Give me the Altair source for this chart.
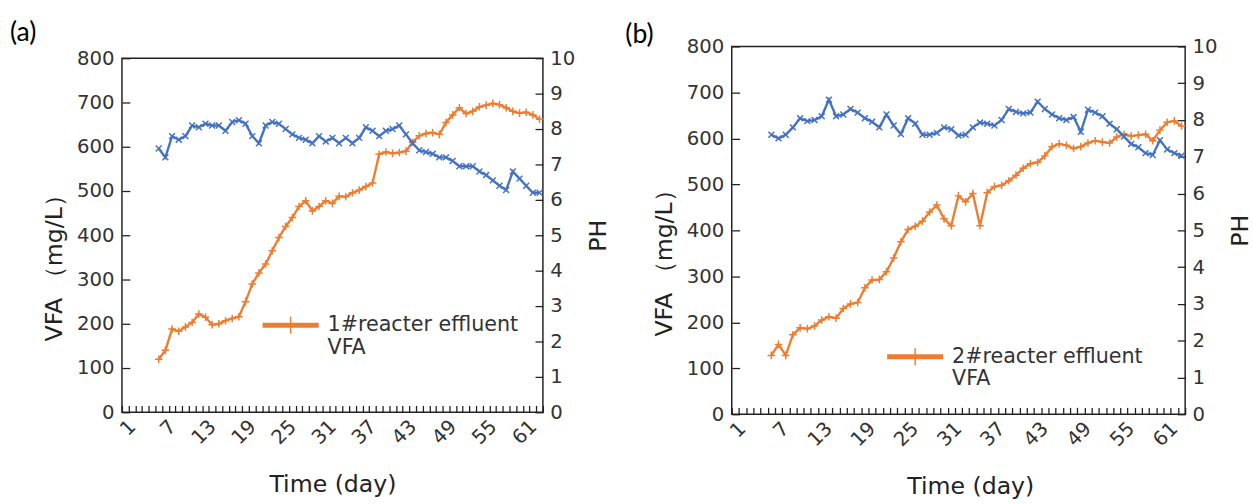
import altair as alt
import pandas as pd

# ---------------- data ----------------
AXIS_DAYS = list(range(1, 64))          # categories on the time axis
DAYS = list(range(6, 64))               # days with measurements
VFA_TICKS = [0, 100, 200, 300, 400, 500, 600, 700, 800]
PH_TICKS = [0, 1, 2, 3, 4, 5, 6, 7, 8, 9, 10]

VFA_A = [120, 140, 188, 183, 193, 203, 222, 215, 198, 200, 207, 212, 216, 250, 290,
         315, 335, 365, 395, 420, 440, 465, 478, 455, 465, 478, 472, 488, 487, 496,
         502, 510, 518, 583, 588, 585, 587, 590, 610, 625, 630, 632, 628, 655, 672,
         688, 675, 680, 690, 694, 698, 695, 688, 680, 676, 678, 672, 662]
PH_A = [7.45, 7.2, 7.8, 7.7, 7.8, 8.1, 8.05, 8.15, 8.1, 8.1, 7.95, 8.2, 8.25, 8.15, 7.8,
        7.6, 8.1, 8.2, 8.15, 8.0, 7.85, 7.75, 7.7, 7.6, 7.8, 7.65, 7.75, 7.6, 7.75, 7.6,
        7.75, 8.05, 7.95, 7.8, 7.95, 8.0, 8.1, 7.85, 7.6, 7.4, 7.35, 7.3, 7.2, 7.2, 7.1,
        6.95, 6.95, 6.95, 6.8, 6.7, 6.55, 6.4, 6.28, 6.8, 6.6, 6.4, 6.2, 6.2]
VFA_B = [128, 152, 128, 173, 188, 186, 192, 205, 212, 209, 230, 240, 243, 275, 292,
         293, 310, 340, 375, 402, 409, 420, 440, 455, 425, 410, 475, 462, 480, 410,
         482, 495, 498, 508, 520, 535, 545, 548, 562, 582, 588, 585, 578, 582, 590,
         595, 592, 590, 603, 609, 605, 607, 609, 595, 618, 635, 638, 627]
PH_B = [7.6, 7.5, 7.6, 7.8, 8.05, 7.97, 8.0, 8.1, 8.55, 8.1, 8.15, 8.3, 8.2, 8.05, 7.95,
        7.8, 8.15, 7.85, 7.62, 8.05, 7.9, 7.6, 7.6, 7.65, 7.8, 7.75, 7.58, 7.6, 7.8, 7.93,
        7.9, 7.85, 8.0, 8.3, 8.22, 8.18, 8.2, 8.5, 8.3, 8.15, 8.05, 8.0, 8.08, 7.68, 8.28,
        8.2, 8.1, 7.9, 7.75, 7.55, 7.35, 7.26, 7.1, 7.05, 7.45, 7.2, 7.1, 7.03]

LABEL_A = "1#reacter effluent|VFA"
LABEL_B = "2#reacter effluent|VFA"

# ---------------- style ----------------
ORANGE = "#ED7D31"
BLUE = "#4472C4"
FONT = "DejaVu Sans"
PLUS = "M-1,0H1M0,-1V1"
XMARK = "M-1,-1L1,1M-1,1L1,-1"
LEG_SYMBOL = ("M-1,-0.06H1M-1,-0.03H1M-1,0H1M-1,0.03H1M-1,0.06H1"
              "M0,-0.3V0.3")


def tag_title(text, dx, off):
    return alt.TitleParams(
        text,
        anchor="start",
        frame="bounds",
        font="Lato",
        fontSize=27,
        fontWeight="normal",
        color="#000",
        dx=dx,
        offset=off,
    )


def panel(label, vfa, ph, w, h, leg_x, leg_y, xt_shift):
    df = pd.DataFrame({"day": DAYS, "vfa": vfa, "ph": ph, "series": label})
    base = alt.Chart(df)

    x = alt.X(
        "day:O",
        bandPosition=0.5,
        scale=alt.Scale(type="band", domain=AXIS_DAYS, paddingInner=0, paddingOuter=0),
        axis=alt.Axis(
            title="Time (day)",
            labelExpr="(datum.value - 1) % 6 === 0 ? datum.label : ''",
            labelAngle=315,
            tickBand="extent",
            tickSize=7,
            offset=-7,
            domain=False,
            labelPadding=4,
            titlePadding=25,
            titleX=w / 2 + xt_shift,
        ),
    )
    y_vfa = alt.Y(
        "vfa:Q",
        scale=alt.Scale(domain=[0, 800], nice=False),
        axis=alt.Axis(
            title="VFA （mg/L）",
            values=VFA_TICKS,
            tickSize=8,
            offset=-8,
            domain=False,
            grid=False,
            labelPadding=8,
            titlePadding=10,
            titleY=h / 2 + 27,
        ),
    )
    y_ph = alt.Y(
        "ph:Q",
        scale=alt.Scale(domain=[0, 10], nice=False),
        axis=alt.Axis(
            title="PH",
            orient="right",
            values=PH_TICKS,
            tickSize=8,
            offset=-8,
            domain=False,
            grid=False,
            labelPadding=7,
            titlePadding=12,
            titleAngle=270,
            titleBaseline="top",
        ),
    )

    vfa_line = base.mark_line(strokeWidth=2.4).encode(
        x=x,
        y=y_vfa,
        color=alt.Color(
            "series:N",
            scale=alt.Scale(domain=[label], range=[ORANGE]),
            legend=alt.Legend(
                title=None,
                orient="none",
                legendX=leg_x,
                legendY=leg_y,
                symbolType=LEG_SYMBOL,
                symbolSize=57 * 57,
                symbolStrokeWidth=1.5,
                symbolStrokeColor=ORANGE,
                labelExpr="split(datum.label, '|')",
                labelFont=FONT,
                labelFontSize=21,
                labelColor="#333",
                labelLimit=0,
                labelOffset=8,
                labelBaseline="middle",
                padding=0,
            ),
        ),
    )
    vfa_pts = base.mark_point(shape=PLUS, size=60, strokeWidth=1.5, color=ORANGE,
                              filled=False, opacity=1).encode(x=x, y=y_vfa)
    ph_line = base.mark_line(strokeWidth=2.4, color=BLUE).encode(x=x, y=y_ph)
    ph_pts = base.mark_point(shape=XMARK, size=36, strokeWidth=1.5, color=BLUE,
                             filled=False, opacity=1).encode(x=x, y=y_ph)

    return (
        alt.layer(alt.layer(vfa_line, vfa_pts), alt.layer(ph_line, ph_pts))
        .resolve_scale(y="independent")
        .properties(width=w, height=h)
    )


# an invisible 1-px strip above panel (a) that lowers it relative to panel (b)
spacer = (
    alt.Chart(pd.DataFrame({"v": [0]}))
    .mark_point(opacity=0, size=1)
    .properties(width=1, height=1, view=alt.ViewBackground(strokeOpacity=0))
)

left = alt.vconcat(
    spacer,
    panel(LABEL_A, VFA_A, PH_A, 428, 360, 142, 254, 0),
    spacing=0,
).properties(title=tag_title("(a)", -33, 0))

right = panel(LABEL_B, VFA_B, PH_B, 461, 374, 157, 286, 12).properties(
    title=tag_title("(b)", -28, -13)
)

chart = (
    alt.hconcat(left, right, spacing=13)
    .resolve_scale(color="independent")
    .resolve_legend(color="independent")
    .properties(padding={"left": 10, "top": 15, "right": 0, "bottom": 0})
    .configure_view(stroke="#222", strokeWidth=1.5)
    .configure_axis(
        labelFont=FONT,
        labelFontSize=20,
        labelColor="#333",
        titleFont=FONT,
        titleFontSize=24,
        titleFontWeight="normal",
        titleColor="#222",
        tickColor="#222",
        tickWidth=1.3,
    )
)

chart.save("out.html", embed_options={"renderer": "svg", "actions": False})
